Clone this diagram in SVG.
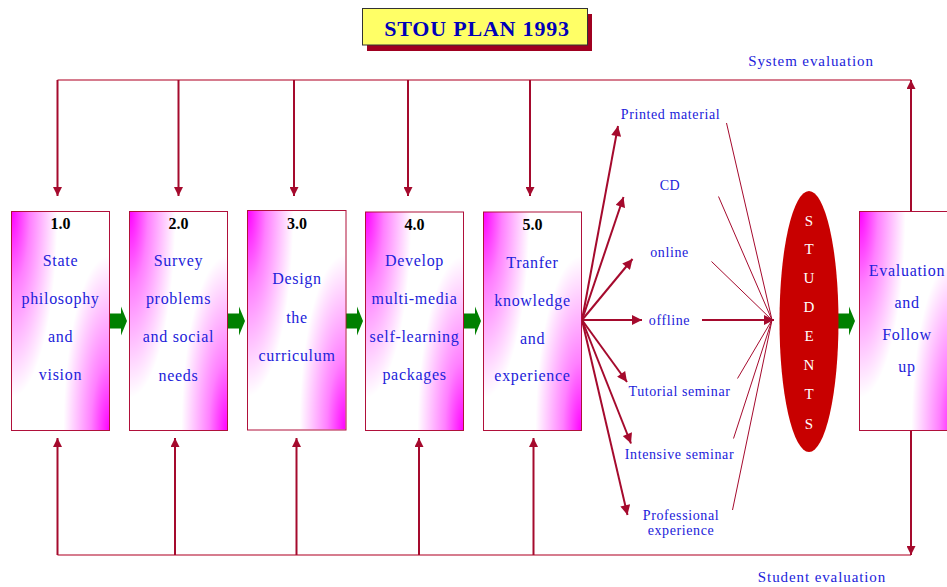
<svg xmlns="http://www.w3.org/2000/svg" width="947" height="587" viewBox="0 0 947 587">
<defs>
<radialGradient id="tl" cx="0" cy="0" r="1" gradientTransform="scale(0.47 0.85)">
<stop offset="0" stop-color="#FF00FF" stop-opacity="1"/>
<stop offset="0.4" stop-color="#FF00FF" stop-opacity="0.5"/>
<stop offset="1" stop-color="#FF00FF" stop-opacity="0"/>
</radialGradient>
<radialGradient id="br" cx="0" cy="0" r="1" gradientTransform="translate(1 1) scale(0.47 0.8)">
<stop offset="0" stop-color="#FF00FF" stop-opacity="1"/>
<stop offset="0.4" stop-color="#FF00FF" stop-opacity="0.5"/>
<stop offset="1" stop-color="#FF00FF" stop-opacity="0"/>
</radialGradient>
<g id="boxfill">
<rect width="98" height="219" fill="#FFFFFF"/>
<rect width="98" height="219" fill="url(#tl)"/>
<rect width="98" height="219" fill="url(#br)"/>
</g>
<marker id="ah" viewBox="0 0 10 10" refX="10" refY="5" markerWidth="9" markerHeight="9" markerUnits="userSpaceOnUse" orient="auto">
<path d="M0,0 L10,5 L0,10 z" fill="#A50A2D"/>
</marker>
<marker id="ahb" viewBox="0 0 10 10" refX="10" refY="5" markerWidth="11" markerHeight="10" markerUnits="userSpaceOnUse" orient="auto">
<path d="M0,0 L10,5 L0,10 z" fill="#A50A2D"/>
</marker>
<path id="garrow" d="M0,-7.5 H11 V-14.5 L17,0 L11,14.5 V7.5 H0 Z" fill="#008000"/>
<style>
.box{fill:none;stroke:#B0103A;stroke-width:1}
.lbl{font-family:"Liberation Serif",serif;font-size:16px;fill:#2222DA;letter-spacing:0.7px;text-anchor:middle}
.num{font-family:"Liberation Serif",serif;font-size:16px;font-weight:bold;fill:#000;text-anchor:middle}
.side{font-family:"Liberation Serif",serif;font-size:14px;fill:#2222DA;letter-spacing:0.6px;text-anchor:middle}
.ev{font-family:"Liberation Serif",serif;font-size:15px;fill:#2222DA;letter-spacing:0.9px;text-anchor:middle}
.stu{font-family:"Liberation Serif",serif;font-size:15px;fill:#FFFFFF;text-anchor:middle}
.conn{stroke:#A50A2D;stroke-width:2;fill:none}
.hl{stroke:#C85068;stroke-width:1.5;fill:none}
.thin{stroke:#A50A2D;stroke-width:1;fill:none}
</style>
</defs>
<rect width="947" height="587" fill="#FFFFFF"/>

<g id="title">
<rect x="367" y="14" width="225" height="37" fill="#A00020"/>
<rect x="362.5" y="8.5" width="225" height="36.5" fill="#FFFF66" stroke="#333333" stroke-width="1"/>
<text x="477" y="35.5" font-family="Liberation Serif,serif" font-size="22" font-weight="bold" fill="#0000B8" text-anchor="middle" letter-spacing="0.8">STOU PLAN 1993</text>
</g>

<g id="connectors">
<line class="hl" x1="57.5" y1="80" x2="911" y2="80"/>
<line class="conn" x1="57.5" y1="80" x2="57.5" y2="196" marker-end="url(#ah)"/>
<line class="conn" x1="178.5" y1="80" x2="178.5" y2="196" marker-end="url(#ah)"/>
<line class="conn" x1="294" y1="80" x2="294" y2="196" marker-end="url(#ah)"/>
<line class="conn" x1="408" y1="80" x2="408" y2="196" marker-end="url(#ah)"/>
<line class="conn" x1="530" y1="80" x2="530" y2="196" marker-end="url(#ah)"/>
<line class="conn" x1="911" y1="211.5" x2="911" y2="80" marker-end="url(#ah)"/>

<line class="hl" x1="57.5" y1="555" x2="911" y2="555"/>
<line class="conn" x1="57.5" y1="555" x2="57.5" y2="438" marker-end="url(#ah)"/>
<line class="conn" x1="175" y1="555" x2="175" y2="438" marker-end="url(#ah)"/>
<line class="conn" x1="296.5" y1="555" x2="296.5" y2="438" marker-end="url(#ah)"/>
<line class="conn" x1="419" y1="555" x2="419" y2="438" marker-end="url(#ah)"/>
<line class="conn" x1="533.5" y1="555" x2="533.5" y2="438" marker-end="url(#ah)"/>
<line class="conn" x1="911" y1="430.5" x2="911" y2="555" marker-end="url(#ah)"/>

<line class="conn" x1="582" y1="320" x2="618" y2="126" marker-end="url(#ahb)"/>
<line class="conn" x1="582" y1="320" x2="623.5" y2="197" marker-end="url(#ahb)"/>
<line class="conn" x1="582" y1="320" x2="632.5" y2="259" marker-end="url(#ahb)"/>
<line class="conn" x1="582" y1="320" x2="642" y2="320" marker-end="url(#ahb)"/>
<line class="conn" x1="582" y1="320" x2="627" y2="382" marker-end="url(#ahb)"/>
<line class="conn" x1="582" y1="320" x2="631" y2="443.5" marker-end="url(#ahb)"/>
<line class="conn" x1="582" y1="320" x2="627.5" y2="515" marker-end="url(#ahb)"/>

<line class="thin" x1="726.5" y1="123" x2="772" y2="320"/>
<line class="thin" x1="718.5" y1="196.5" x2="772" y2="320"/>
<line class="thin" x1="711.5" y1="261.5" x2="772" y2="320"/>
<line class="conn" x1="702" y1="320" x2="774" y2="320" marker-end="url(#ahb)"/>
<line class="thin" x1="737.5" y1="378.5" x2="772" y2="320"/>
<line class="thin" x1="733.5" y1="438.5" x2="772" y2="320"/>
<line class="thin" x1="732.5" y1="510" x2="772" y2="320"/>

<use href="#garrow" x="110" y="321"/>
<use href="#garrow" x="228" y="321"/>
<use href="#garrow" x="346" y="321"/>
<use href="#garrow" x="464" y="321"/>
<use href="#garrow" x="838" y="321"/>
</g>

<g id="node1">
<use href="#boxfill" x="11.5" y="211.5"/>
<rect class="box" x="11.5" y="211.5" width="98" height="219"/>
<text class="num" x="60.5" y="229">1.0</text>
<text class="lbl" x="60.5" y="265.5">State</text>
<text class="lbl" x="60.5" y="303.5">philosophy</text>
<text class="lbl" x="60.5" y="341.5">and</text>
<text class="lbl" x="60.5" y="379.5">vision</text>
</g>

<g id="node2">
<use href="#boxfill" x="129.5" y="211.5"/>
<rect class="box" x="129.5" y="211.5" width="98" height="219"/>
<text class="num" x="178.5" y="229">2.0</text>
<text class="lbl" x="178.5" y="265.5">Survey</text>
<text class="lbl" x="178.5" y="303.5">problems</text>
<text class="lbl" x="178.5" y="341.5">and social</text>
<text class="lbl" x="178.5" y="380.5">needs</text>
</g>

<g id="node3">
<use href="#boxfill" x="247.5" y="210.5"/>
<rect class="box" x="247.5" y="210.5" width="98.5" height="219.5"/>
<text class="num" x="297" y="229">3.0</text>
<text class="lbl" x="297" y="283.5">Design</text>
<text class="lbl" x="297" y="322.5">the</text>
<text class="lbl" x="297" y="360.5">curriculum</text>
</g>

<g id="node4">
<use href="#boxfill" x="365.5" y="212"/>
<rect class="box" x="365.5" y="212" width="98" height="218.5"/>
<text class="num" x="414.5" y="229.5">4.0</text>
<text class="lbl" x="414.5" y="265.5">Develop</text>
<text class="lbl" x="414.5" y="304">multi-media</text>
<text class="lbl" x="414.5" y="341.5">self-learning</text>
<text class="lbl" x="414.5" y="379.5">packages</text>
</g>

<g id="node5">
<use href="#boxfill" x="483.5" y="212"/>
<rect class="box" x="483.5" y="212" width="98" height="218.5"/>
<text class="num" x="532.5" y="229.5">5.0</text>
<text class="lbl" x="532.5" y="268">Tranfer</text>
<text class="lbl" x="532.5" y="305.5">knowledge</text>
<text class="lbl" x="532.5" y="343.5">and</text>
<text class="lbl" x="532.5" y="381">experience</text>
</g>

<g id="media">
<text class="side" x="670.5" y="119">Printed material</text>
<text class="side" x="670" y="189.5">CD</text>
<text class="side" x="669.5" y="256.5">online</text>
<text class="side" x="669.5" y="325">offline</text>
<text class="side" x="679.5" y="396">Tutorial seminar</text>
<text class="side" x="679.5" y="458.5">Intensive seminar</text>
<text class="side" x="681" y="519.5">Professional</text>
<text class="side" x="681" y="535">experience</text>
</g>

<g id="students">
<ellipse cx="809" cy="321.5" rx="29.5" ry="130.5" fill="#C80000"/>
<text class="stu" x="809" y="225.5">S</text>
<text class="stu" x="809" y="254">T</text>
<text class="stu" x="809" y="283">U</text>
<text class="stu" x="809" y="312">D</text>
<text class="stu" x="809" y="340.5">E</text>
<text class="stu" x="809" y="369.5">N</text>
<text class="stu" x="809" y="398.5">T</text>
<text class="stu" x="809" y="428.5">S</text>
</g>

<g id="node6">
<use href="#boxfill" x="859.5" y="211.5"/>
<rect class="box" x="859.5" y="211.5" width="98" height="219"/>
<text class="lbl" x="907" y="275.5">Evaluation</text>
<text class="lbl" x="907" y="307.5">and</text>
<text class="lbl" x="907" y="339.5">Follow</text>
<text class="lbl" x="907" y="371.5">up</text>
</g>

<g id="labels">
<text class="ev" x="811" y="66">System evaluation</text>
<text class="ev" x="822" y="581.5">Student evaluation</text>
</g>
</svg>
